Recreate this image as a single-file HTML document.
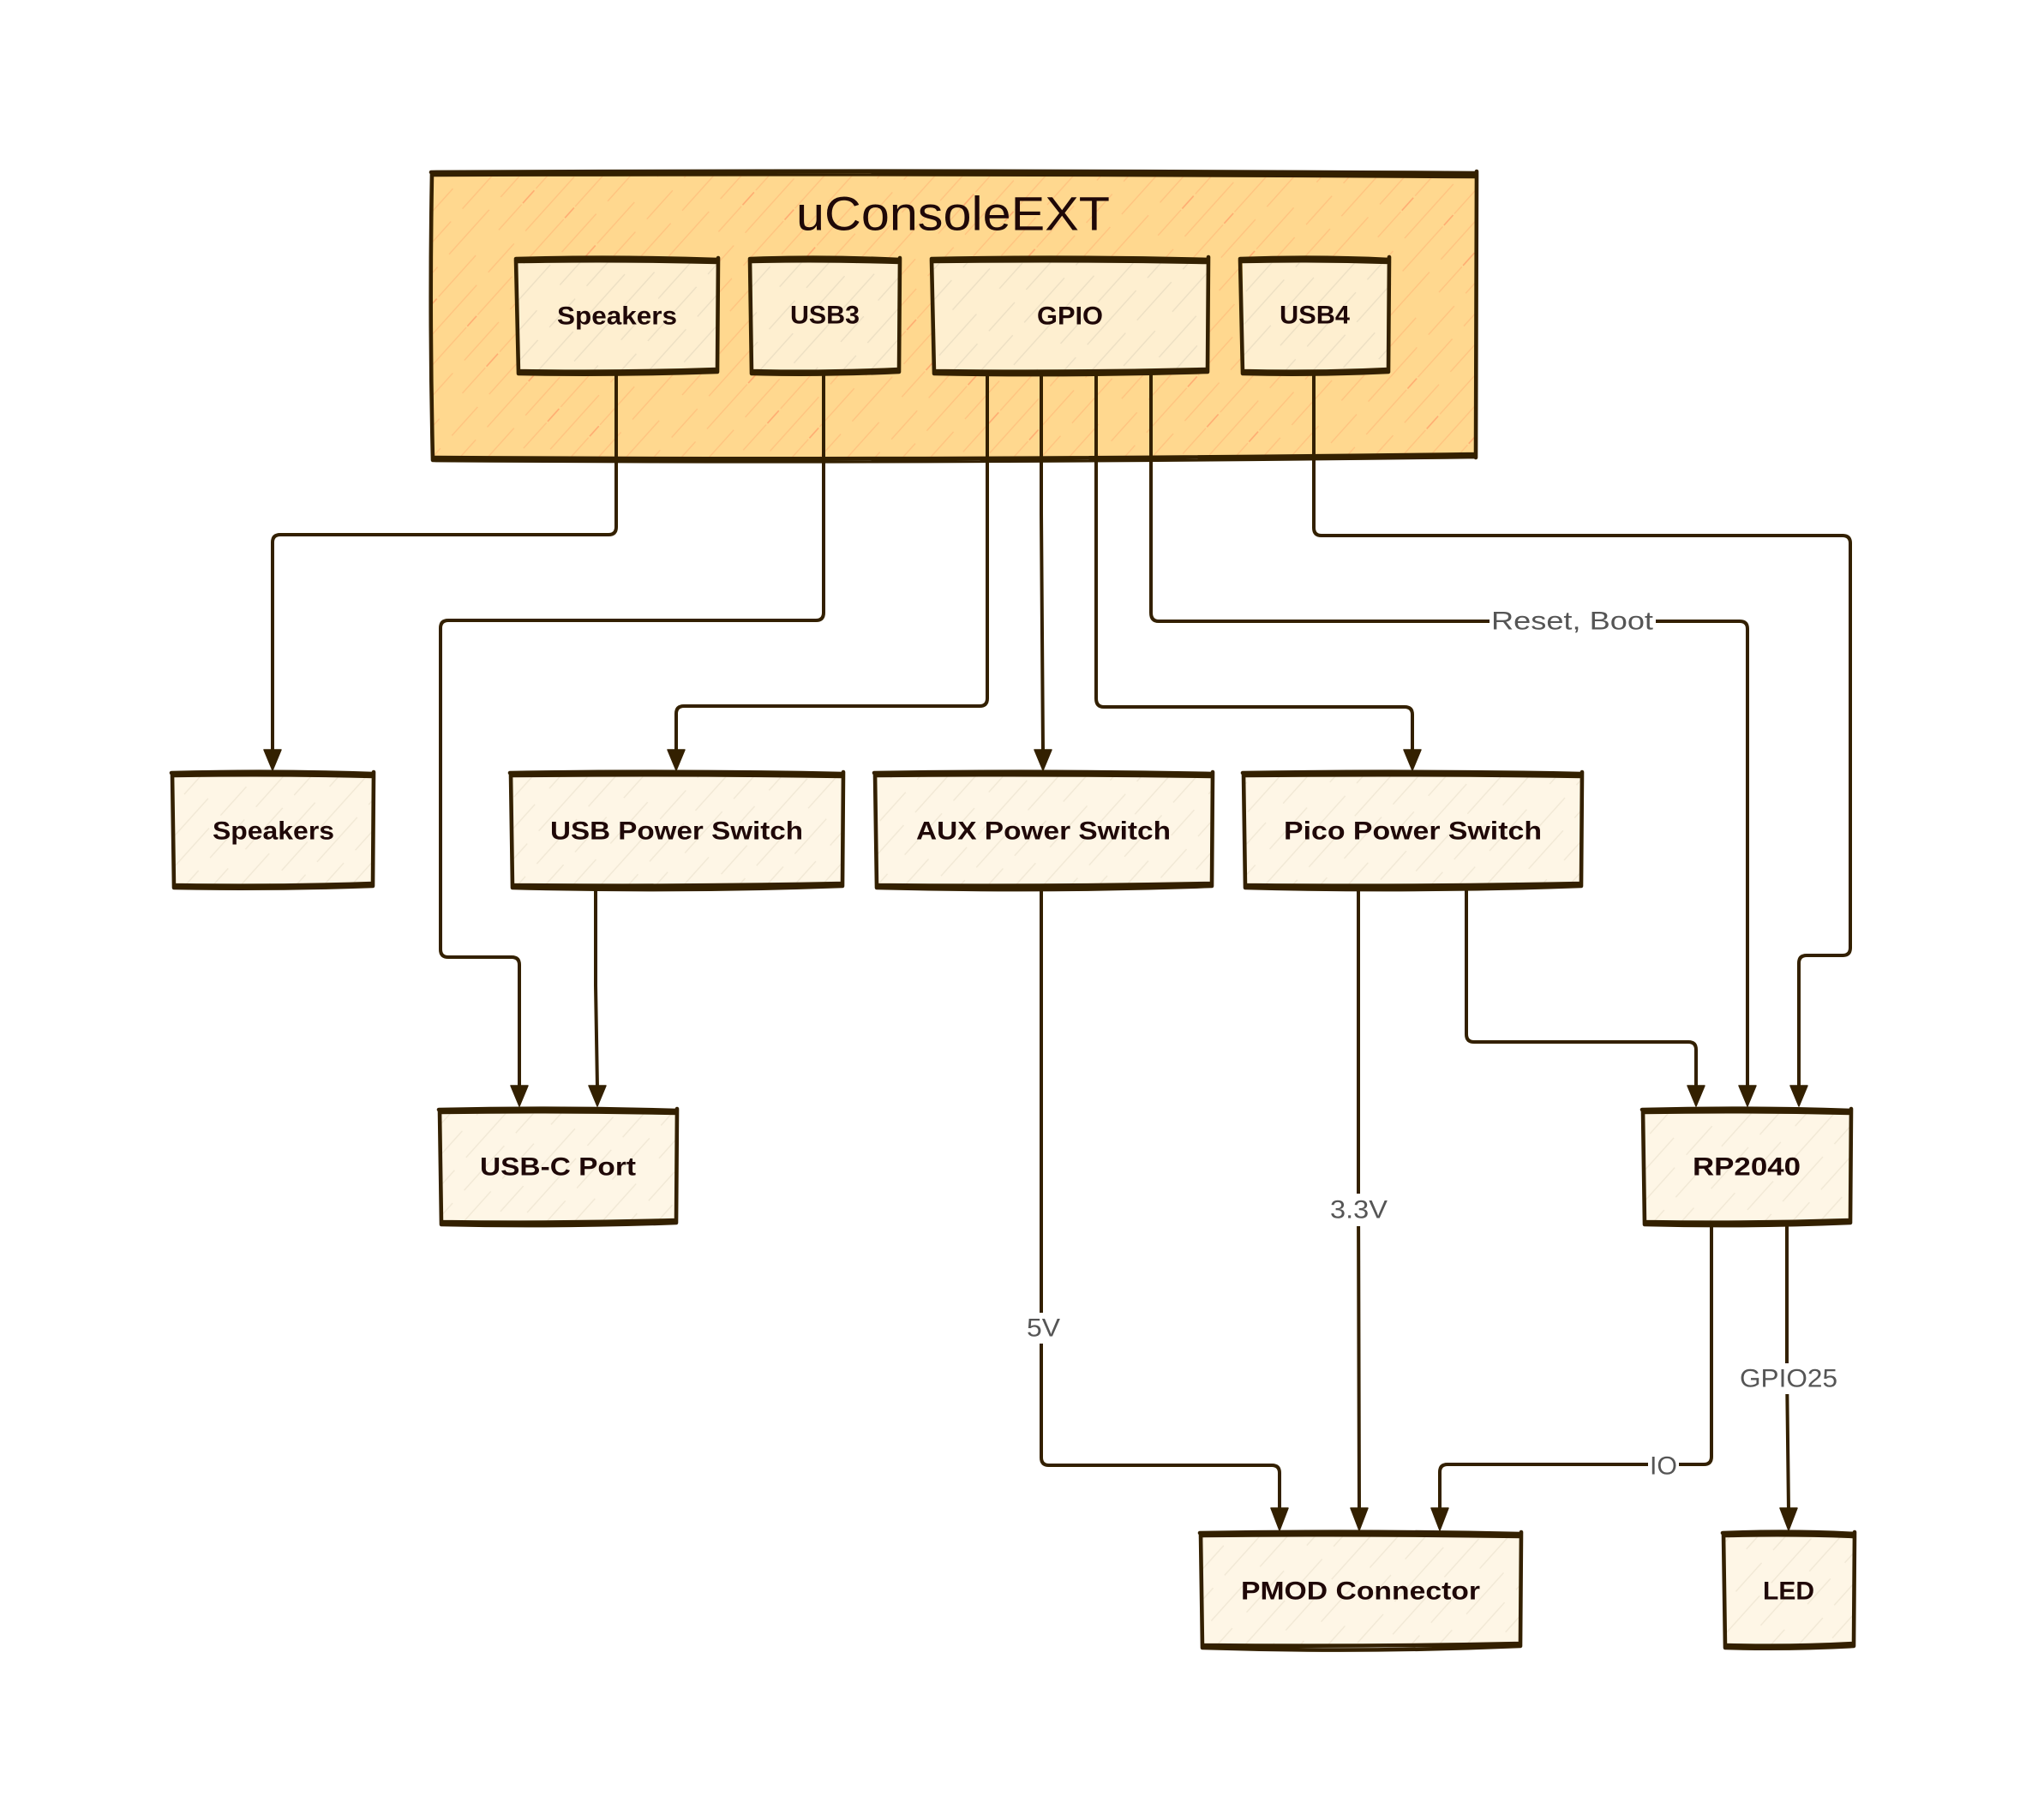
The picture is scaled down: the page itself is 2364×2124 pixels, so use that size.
<!DOCTYPE html>
<html lang="en"><head><meta charset="utf-8"><title>uConsoleEXT</title>
<style>
html,body{margin:0;padding:0;background:#fff}
svg{display:block}
.n{font-family:"Liberation Sans",sans-serif;font-size:30px;font-weight:700;fill:#1f0808;text-anchor:start;dominant-baseline:central}
.l{font-family:"Liberation Sans",sans-serif;font-size:30px;fill:#555;dominant-baseline:central}
.b{fill:none;stroke:#332000;stroke-width:4.6;stroke-linejoin:round;stroke-linecap:round}
.c{fill:none;stroke:#332000;stroke-width:4;stroke-linejoin:round;stroke-linecap:round}
.t{fill:none;stroke:#332000;stroke-width:5;stroke-linejoin:round;stroke-linecap:round}
.a{fill:#332000;stroke:#332000;stroke-width:1.5;stroke-linejoin:round}
</style></head>
<body>
<svg width="2364" height="2124" viewBox="0 0 2364 2124" xmlns="http://www.w3.org/2000/svg">
<defs>
<pattern id="h0" width="96" height="170" patternUnits="userSpaceOnUse" patternTransform="rotate(42)">
<rect width="96" height="170" fill="#FFD88F"/>
<g stroke="#FFC27F" stroke-width="1.3" fill="none">
<path d="M12 0V40M12 60V120M12 140V170"/>
<path d="M36 20V85M36 110V150"/>
<path d="M60 0V25M60 45V130M60 150V170"/>
<path d="M84 10V70M84 90V160"/>
</g>
<path d="M36 88V108M84 72V88" stroke="#FFA970" stroke-width="1.5"/>
</pattern>
<pattern id="h1" width="96" height="170" patternUnits="userSpaceOnUse" patternTransform="rotate(42)">
<rect width="96" height="170" fill="#FEEFD0"/>
<g stroke="#EBDEC2" stroke-width="1.3" fill="none">
<path d="M12 0V35M12 65V120M12 140V170"/>
<path d="M36 20V85M36 110V150"/>
<path d="M60 0V25M60 45V130M60 150V170"/>
<path d="M84 10V70M84 90V160"/>
</g>
</pattern>
<pattern id="h2" width="96" height="170" patternUnits="userSpaceOnUse" patternTransform="rotate(42)">
<rect width="96" height="170" fill="#FEF6E6"/>
<g stroke="#F0E7D4" stroke-width="1.3" fill="none">
<path d="M12 0V35M12 65V120M12 140V170"/>
<path d="M36 20V85M36 110V150"/>
<path d="M60 0V25M60 45V130M60 150V170"/>
<path d="M84 10V70M84 90V160"/>
</g>
</pattern>
</defs>

<!-- outer group -->
<path d="M504 203 Q1100 200 1722 204 L1721 532 Q1100 538 505 536 Q501 370 504 203Z" fill="url(#h0)"/>
<path class="b" d="M503 201 Q1100 198 1723 202 M505 204 Q1100 202 1722 206 M1723 200 L1722 534 M1722 530 Q1100 538 506 534 M506 537 Q1100 541 1722 533 M505 537 Q501 370 504 202"/>
<text x="929" y="249" style="font-family:'Liberation Sans',sans-serif;font-size:56px;dominant-baseline:central;fill:#1f0808" textLength="366" lengthAdjust="spacingAndGlyphs">uConsoleEXT</text>

<!-- connectors -->
<path class="c" d="M719 437V615Q719 624 710 624H327Q318 624 318 633V878"/>
<path class="c" d="M961 437V715Q961 724 952 724H523Q514 724 514 733V1108Q514 1117 523 1117H597Q606 1117 606 1126V1270"/>
<path class="c" d="M1152 437V815Q1152 824 1143 824H798Q789 824 789 833V878"/>
<path class="c" d="M1215 437V600L1217 878"/>
<path class="c" d="M1279 437V815Q1279 825 1288 825H1639Q1648 825 1648 834V878"/>
<path class="c" d="M1343 437V715Q1343 725 1352 725H2030Q2039 725 2039 734V1270"/>
<path class="c" d="M1533 437V616Q1533 625 1542 625H2150Q2159 625 2159 634V1106Q2159 1115 2150 1115H2108Q2099 1115 2099 1124V1270"/>
<path class="c" d="M695 1040V1150L697 1270"/>
<path class="c" d="M1215 1040V1701Q1215 1710 1224 1710H1484Q1493 1710 1493 1719V1763"/>
<path class="c" d="M1585 1040V1400L1586 1763"/>
<path class="c" d="M1711 1040V1207Q1711 1216 1720 1216H1970Q1979 1216 1979 1225V1270"/>
<path class="c" d="M1997 1432V1700Q1997 1709 1988 1709H1689Q1680 1709 1680 1718V1763"/>
<path class="c" d="M2085 1432V1600L2087 1763"/>

<!-- arrowheads -->
<g class="a">
<polygon points="308,875 328,875 318,899"/>
<polygon points="779,875 799,875 789,899"/>
<polygon points="1207,875 1227,875 1217,899"/>
<polygon points="1638,875 1658,875 1648,899"/>
<polygon points="596,1267 616,1267 606,1291"/>
<polygon points="687,1267 707,1267 697,1291"/>
<polygon points="1969,1267 1989,1267 1979,1291"/>
<polygon points="2029,1267 2049,1267 2039,1291"/>
<polygon points="2089,1267 2109,1267 2099,1291"/>
<polygon points="1483,1760 1503,1760 1493,1786"/>
<polygon points="1576,1760 1596,1760 1586,1786"/>
<polygon points="1670,1760 1690,1760 1680,1786"/>
<polygon points="2077,1760 2097,1760 2087,1786"/>
</g>

<!-- inner nodes -->
<path d="M604 304 Q720 301 837 305 L836 433 Q720 437 605 434Z" fill="url(#h1)"/>
<path class="b" d="M602 302 Q720 299 838 303 M604 305 Q720 303 838 306 M838 301 L837 434 M837 431 Q720 435 606 433 M605 436 Q720 438 837 434 M605 436 L602 303"/>
<path d="M877 304 Q960 301 1049 305 L1048 433 Q960 437 878 434Z" fill="url(#h1)"/>
<path class="b" d="M875 302 Q960 299 1050 303 M877 305 Q960 303 1050 306 M1050 301 L1049 434 M1049 431 Q960 435 878 433 M878 436 Q960 438 1049 434 M877 436 L875 303"/>
<path d="M1089 304 Q1250 301 1409 305 L1408 432 Q1250 437 1090 434Z" fill="url(#h1)"/>
<path class="b" d="M1087 302 Q1250 299 1410 303 M1089 305 Q1250 303 1410 306 M1410 300 L1409 434 M1409 431 Q1250 435 1090 433 M1090 436 Q1250 439 1409 434 M1090 436 L1087 303"/>
<path d="M1450 304 Q1535 301 1620 305 L1619 432 Q1535 437 1451 434Z" fill="url(#h1)"/>
<path class="b" d="M1447 302 Q1535 299 1621 303 M1449 305 Q1535 303 1621 306 M1621 300 L1620 434 M1620 431 Q1535 435 1451 433 M1451 436 Q1535 438 1620 434 M1450 436 L1447 303"/>

<!-- outer nodes -->
<path d="M203 904 Q320 901 434 905 L433 1033 Q320 1037 202 1034Z" fill="url(#h2)"/>
<path class="b" d="M200 902 Q320 899 436 903 M202 905 Q320 903 436 906 M436 901 L435 1034 M435 1031 Q320 1035 204 1033 M203 1036 Q320 1038 435 1034 M203 1036 L201 903"/>
<path d="M598 904 Q790 901 982 905 L981 1033 Q790 1037 597 1034Z" fill="url(#h2)"/>
<path class="b" d="M595 902 Q790 899 984 903 M597 905 Q790 903 984 906 M984 901 L983 1034 M983 1031 Q790 1035 599 1033 M598 1036 Q790 1041 983 1034 M598 1036 L596 903"/>
<path d="M1022 904 Q1220 901 1413 905 L1412 1033 Q1220 1037 1021 1034Z" fill="url(#h2)"/>
<path class="b" d="M1020 902 Q1220 899 1415 903 M1022 905 Q1220 903 1415 906 M1415 901 L1414 1034 M1414 1031 Q1220 1035 1024 1033 M1023 1036 Q1220 1041 1414 1034 M1023 1036 L1021 903"/>
<path d="M1453 904 Q1650 901 1844 905 L1843 1033 Q1650 1037 1452 1034Z" fill="url(#h2)"/>
<path class="b" d="M1450 902 Q1650 899 1846 903 M1452 905 Q1650 903 1846 906 M1846 901 L1845 1034 M1845 1031 Q1650 1035 1454 1033 M1453 1036 Q1650 1041 1845 1034 M1453 1036 L1451 903"/>
<path d="M515 1297 Q650 1294 788 1298 L787 1426 Q650 1430 514 1427Z" fill="url(#h2)"/>
<path class="b" d="M512 1295 Q650 1292 790 1296 M514 1298 Q650 1296 790 1299 M790 1294 L789 1427 M789 1424 Q650 1428 516 1426 M515 1429 Q650 1432 789 1427 M515 1429 L513 1296"/>
<path d="M1919 1297 Q2040 1294 2158 1298 L2157 1426 Q2040 1430 1918 1427Z" fill="url(#h2)"/>
<path class="b" d="M1916 1295 Q2040 1292 2160 1296 M1918 1298 Q2040 1296 2160 1299 M2160 1294 L2159 1427 M2159 1424 Q2040 1428 1920 1426 M1919 1429 Q2040 1432 2159 1427 M1919 1429 L1917 1296"/>
<path d="M1403 1791 Q1590 1788 1773 1792 L1772 1920 Q1590 1924 1402 1921Z" fill="url(#h2)"/>
<path class="b" d="M1400 1789 Q1590 1786 1775 1790 M1402 1792 Q1590 1790 1775 1793 M1775 1788 L1774 1921 M1774 1918 Q1590 1922 1404 1920 M1403 1923 Q1590 1929 1774 1921 M1403 1923 L1401 1790"/>
<path d="M2013 1791 Q2090 1788 2162 1792 L2161 1920 Q2090 1924 2012 1921Z" fill="url(#h2)"/>
<path class="b" d="M2010 1789 Q2090 1786 2164 1790 M2012 1792 Q2090 1790 2164 1793 M2164 1788 L2163 1921 M2163 1918 Q2090 1922 2014 1920 M2013 1923 Q2090 1925 2163 1921 M2013 1923 L2011 1790"/>

<!-- node labels -->
<text class="n" x="650" y="369" textLength="140" lengthAdjust="spacingAndGlyphs">Speakers</text>
<text class="n" x="922" y="368" textLength="81" lengthAdjust="spacingAndGlyphs">USB3</text>
<text class="n" x="1210" y="369" textLength="77" lengthAdjust="spacingAndGlyphs">GPIO</text>
<text class="n" x="1493" y="368" textLength="82" lengthAdjust="spacingAndGlyphs">USB4</text>
<text class="n" x="248" y="970" textLength="142" lengthAdjust="spacingAndGlyphs">Speakers</text>
<text class="n" x="642" y="970" textLength="295" lengthAdjust="spacingAndGlyphs">USB Power Switch</text>
<text class="n" x="1069" y="970" textLength="297" lengthAdjust="spacingAndGlyphs">AUX Power Switch</text>
<text class="n" x="1498" y="970" textLength="301" lengthAdjust="spacingAndGlyphs">Pico Power Switch</text>
<text class="n" x="560" y="1362" textLength="182" lengthAdjust="spacingAndGlyphs">USB-C Port</text>
<text class="n" x="1975" y="1362" textLength="126" lengthAdjust="spacingAndGlyphs">RP2040</text>
<text class="n" x="1448" y="1857" textLength="279" lengthAdjust="spacingAndGlyphs">PMOD Connector</text>
<text class="n" x="2057" y="1857" textLength="60" lengthAdjust="spacingAndGlyphs">LED</text>

<!-- edge labels -->
<rect x="1738" y="707" width="194" height="36" fill="#fff"/>
<text class="l" x="1740" y="725" textLength="189" lengthAdjust="spacingAndGlyphs">Reset, Boot</text>
<rect x="1551" y="1393" width="69" height="38" fill="#fff"/>
<text class="l" x="1552" y="1412" textLength="67" lengthAdjust="spacingAndGlyphs">3.3V</text>
<rect x="1197" y="1532" width="41" height="36" fill="#fff"/>
<text class="l" x="1198" y="1550" textLength="39" lengthAdjust="spacingAndGlyphs">5V</text>
<rect x="2029" y="1591" width="116" height="36" fill="#fff"/>
<text class="l" x="2030" y="1609" textLength="114" lengthAdjust="spacingAndGlyphs">GPIO25</text>
<rect x="1923" y="1692" width="36" height="36" fill="#fff"/>
<text class="l" x="1925" y="1711" textLength="32" lengthAdjust="spacingAndGlyphs">IO</text>
</svg>
</body></html>
